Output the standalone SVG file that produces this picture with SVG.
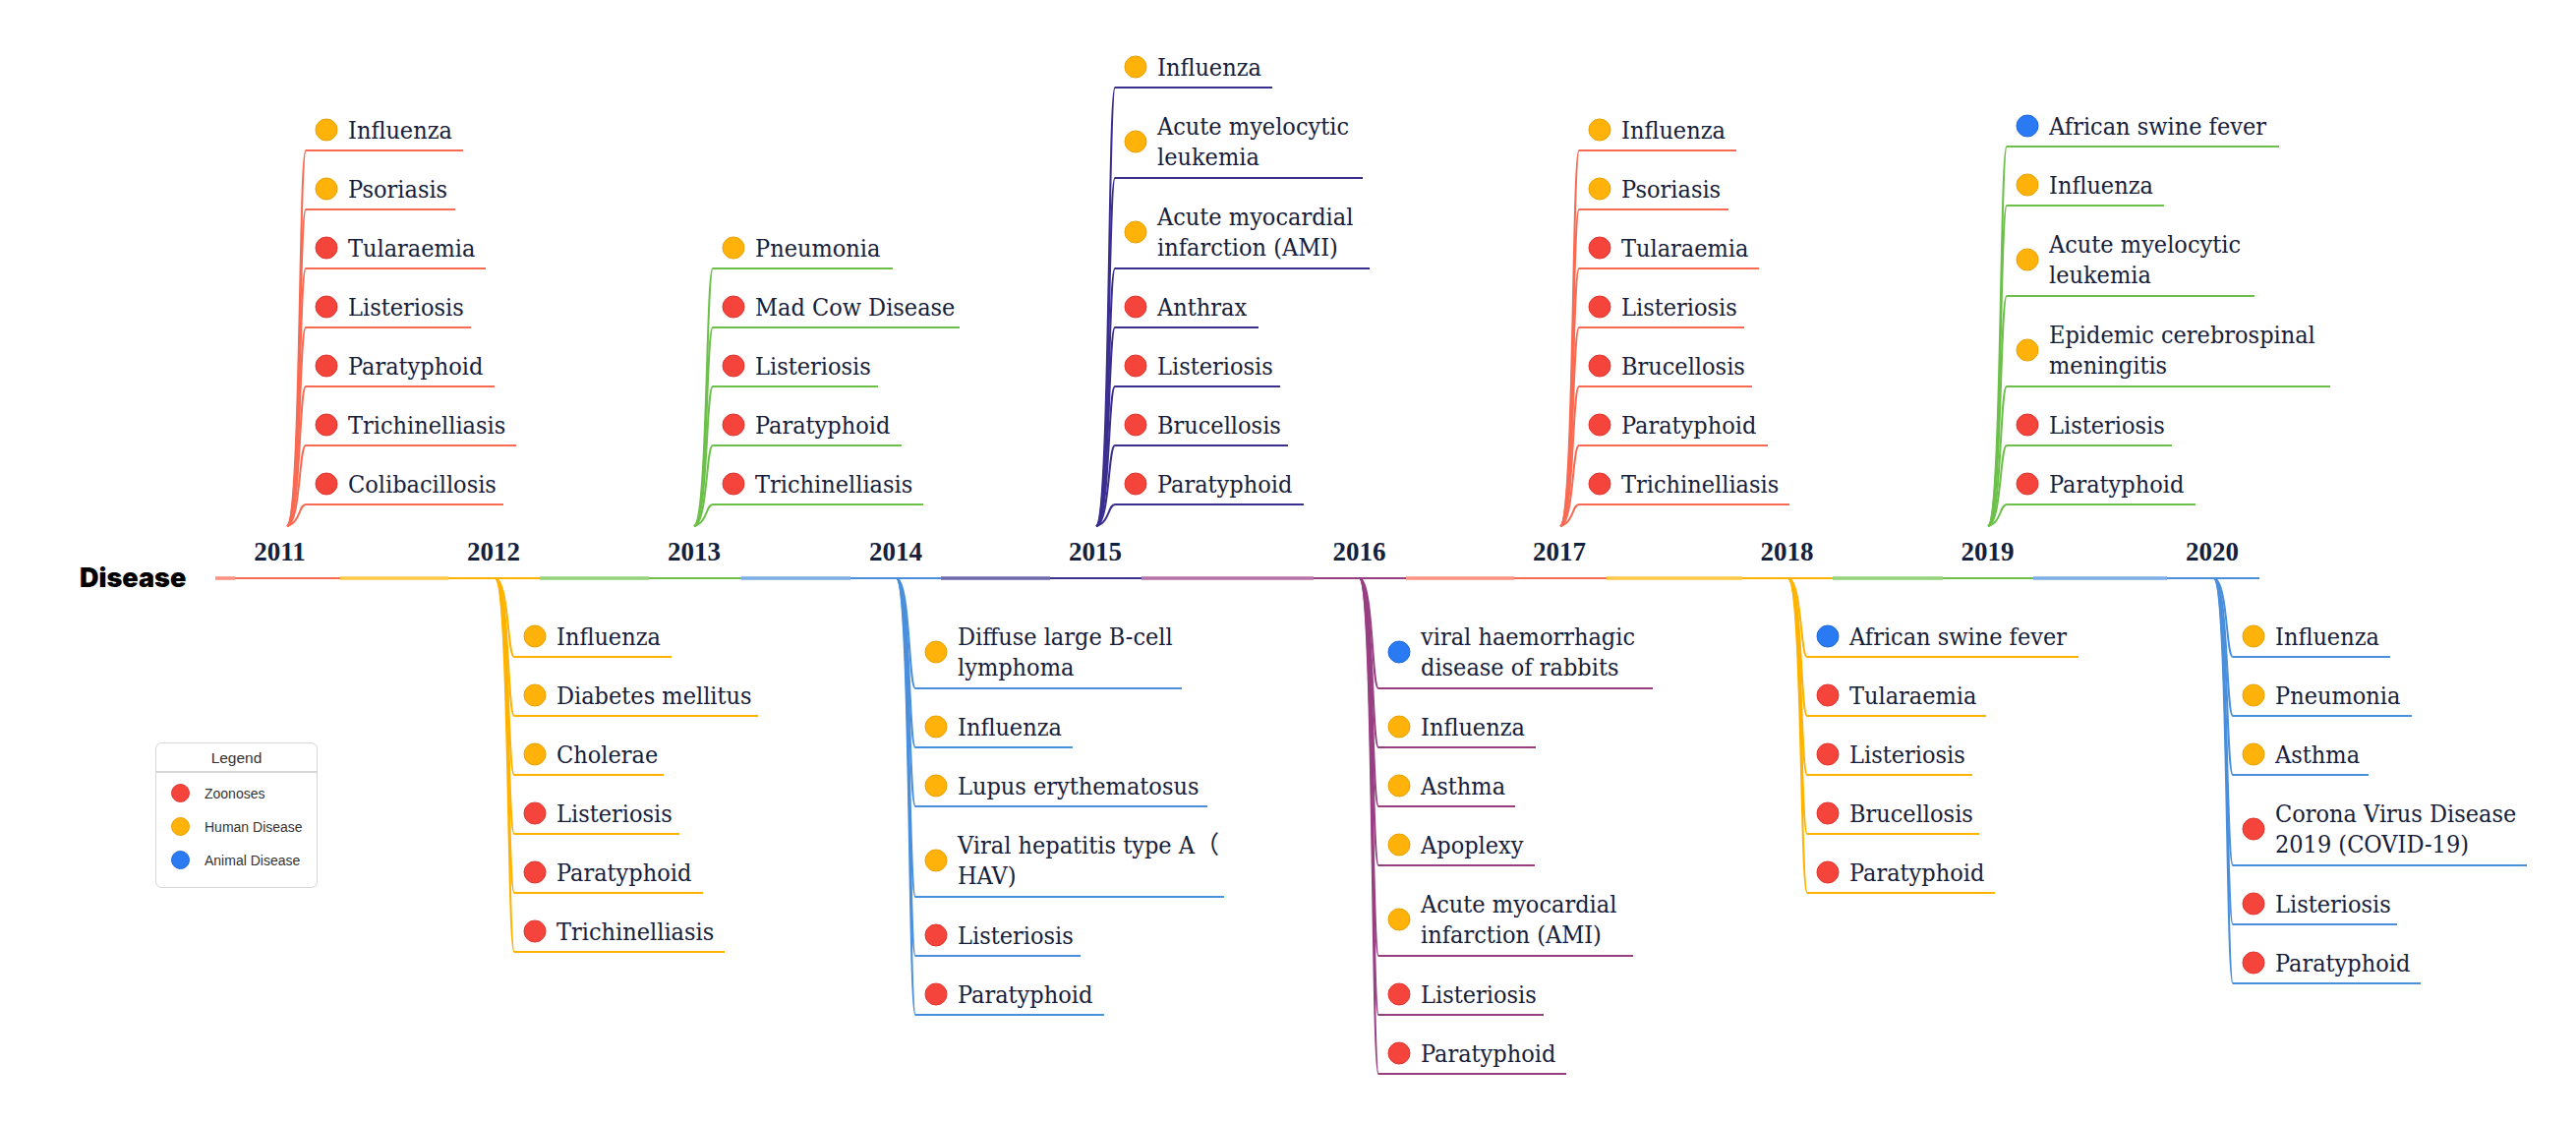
<svg xmlns="http://www.w3.org/2000/svg" width="2620" height="1143" viewBox="0 0 2620 1143">
<style>
.bg{fill:#ffffff}
.t{font-family:"DejaVu Serif Condensed","DejaVu Serif",serif;font-stretch:condensed;font-size:25px;fill:#16203a}
.yr{font-family:"Liberation Serif",serif;font-weight:bold;font-size:27px;fill:#14213d;text-anchor:middle}
.title{font-family:Inter,"Liberation Sans",Arial,sans-serif;font-weight:900;font-size:27px;fill:#000}
.lg{font-family:"Liberation Sans",Arial,sans-serif;font-size:14px;fill:#333}
.lgh{font-family:"Liberation Sans",Arial,sans-serif;font-size:15.5px;fill:#333;text-anchor:middle}
.z{fill:#f4443c;stroke:#e0362f;stroke-width:1}
.h{fill:#ffb20a;stroke:#e9a100;stroke-width:1}
.a{fill:#2a7af3;stroke:#1f68d8;stroke-width:1}
.c1{stroke:#f96a53}
.c2{stroke:#ffb300}
.c3{stroke:#6cc04a}
.c4{stroke:#4a8fdb}
.c5{stroke:#3a2f8f}
.c6{stroke:#983f82}
path,line{fill:none;stroke-width:2}
.thick{stroke-width:3.6;stroke-opacity:0.72}
</style>
<rect class="bg" x="0" y="0" width="2620" height="1143"/>

<g id="timeline">
<line class="c1 thick" x1="219" y1="588" x2="239" y2="588"/><line class="c1" x1="239" y1="588" x2="346" y2="588"/>
<line class="c2 thick" x1="346" y1="588" x2="456" y2="588"/><line class="c2" x1="456" y1="588" x2="549" y2="588"/>
<line class="c3 thick" x1="549" y1="588" x2="660" y2="588"/><line class="c3" x1="660" y1="588" x2="754" y2="588"/>
<line class="c4 thick" x1="754" y1="588" x2="865" y2="588"/><line class="c4" x1="865" y1="588" x2="957" y2="588"/>
<line class="c5 thick" x1="957" y1="588" x2="1068" y2="588"/><line class="c5" x1="1068" y1="588" x2="1161" y2="588"/>
<line class="c6 thick" x1="1161" y1="588" x2="1336" y2="588"/><line class="c6" x1="1336" y1="588" x2="1430" y2="588"/>
<line class="c1 thick" x1="1430" y1="588" x2="1540" y2="588"/><line class="c1" x1="1540" y1="588" x2="1634" y2="588"/>
<line class="c2 thick" x1="1634" y1="588" x2="1772" y2="588"/><line class="c2" x1="1772" y1="588" x2="1864" y2="588"/>
<line class="c3 thick" x1="1864" y1="588" x2="1976" y2="588"/><line class="c3" x1="1976" y1="588" x2="2068" y2="588"/>
<line class="c4 thick" x1="2068" y1="588" x2="2204" y2="588"/><line class="c4" x1="2204" y1="588" x2="2298" y2="588"/>
</g>

<g id="root"><text class="title" x="81" y="597">Disease</text></g>

<g id="years">
<text class="yr" x="284.5" y="570">2011</text>
<text class="yr" x="502" y="570">2012</text>
<text class="yr" x="706" y="570">2013</text>
<text class="yr" x="911" y="570">2014</text>
<text class="yr" x="1114" y="570">2015</text>
<text class="yr" x="1382.5" y="570">2016</text>
<text class="yr" x="1586" y="570">2017</text>
<text class="yr" x="1817.5" y="570">2018</text>
<text class="yr" x="2021.5" y="570">2019</text>
<text class="yr" x="2250" y="570">2020</text>
</g>

<g id="connectors">
<path class="c1" d="M292,535 C306,531 304,153 311,153"/>
<path class="c1" d="M292,535 C306,531 304,213 311,213"/>
<path class="c1" d="M292,535 C306,531 304,273 311,273"/>
<path class="c1" d="M292,535 C306,531 304,333 311,333"/>
<path class="c1" d="M292,535 C306,531 304,393 311,393"/>
<path class="c1" d="M292,535 C306,531 304,453 311,453"/>
<path class="c1" d="M292,535 C306,531 304,513 311,513"/>
<path class="c3" d="M706,535 C720,531 718,273 725,273"/>
<path class="c3" d="M706,535 C720,531 718,333 725,333"/>
<path class="c3" d="M706,535 C720,531 718,393 725,393"/>
<path class="c3" d="M706,535 C720,531 718,453 725,453"/>
<path class="c3" d="M706,535 C720,531 718,513 725,513"/>
<path class="c5" d="M1115,535 C1129,531 1127,89 1134,89"/>
<path class="c5" d="M1115,535 C1129,531 1127,181 1134,181"/>
<path class="c5" d="M1115,535 C1129,531 1127,273 1134,273"/>
<path class="c5" d="M1115,535 C1129,531 1127,333 1134,333"/>
<path class="c5" d="M1115,535 C1129,531 1127,393 1134,393"/>
<path class="c5" d="M1115,535 C1129,531 1127,453 1134,453"/>
<path class="c5" d="M1115,535 C1129,531 1127,513 1134,513"/>
<path class="c1" d="M1587,535 C1601,531 1599,153 1606,153"/>
<path class="c1" d="M1587,535 C1601,531 1599,213 1606,213"/>
<path class="c1" d="M1587,535 C1601,531 1599,273 1606,273"/>
<path class="c1" d="M1587,535 C1601,531 1599,333 1606,333"/>
<path class="c1" d="M1587,535 C1601,531 1599,393 1606,393"/>
<path class="c1" d="M1587,535 C1601,531 1599,453 1606,453"/>
<path class="c1" d="M1587,535 C1601,531 1599,513 1606,513"/>
<path class="c3" d="M2022,535 C2036,531 2034,149 2041,149"/>
<path class="c3" d="M2022,535 C2036,531 2034,209 2041,209"/>
<path class="c3" d="M2022,535 C2036,531 2034,301 2041,301"/>
<path class="c3" d="M2022,535 C2036,531 2034,393 2041,393"/>
<path class="c3" d="M2022,535 C2036,531 2034,453 2041,453"/>
<path class="c3" d="M2022,535 C2036,531 2034,513 2041,513"/>
<path class="c2" d="M504,588 C518,592 516,668 523,668"/>
<path class="c2" d="M504,588 C518,592 516,728 523,728"/>
<path class="c2" d="M504,588 C518,592 516,788 523,788"/>
<path class="c2" d="M504,588 C518,592 516,848 523,848"/>
<path class="c2" d="M504,588 C518,592 516,908 523,908"/>
<path class="c2" d="M504,588 C518,592 516,968 523,968"/>
<path class="c4" d="M912,588 C926,592 924,700 931,700"/>
<path class="c4" d="M912,588 C926,592 924,760 931,760"/>
<path class="c4" d="M912,588 C926,592 924,820 931,820"/>
<path class="c4" d="M912,588 C926,592 924,912 931,912"/>
<path class="c4" d="M912,588 C926,592 924,972 931,972"/>
<path class="c4" d="M912,588 C926,592 924,1032 931,1032"/>
<path class="c6" d="M1383,588 C1397,592 1395,700 1402,700"/>
<path class="c6" d="M1383,588 C1397,592 1395,760 1402,760"/>
<path class="c6" d="M1383,588 C1397,592 1395,820 1402,820"/>
<path class="c6" d="M1383,588 C1397,592 1395,880 1402,880"/>
<path class="c6" d="M1383,588 C1397,592 1395,972 1402,972"/>
<path class="c6" d="M1383,588 C1397,592 1395,1032 1402,1032"/>
<path class="c6" d="M1383,588 C1397,592 1395,1092 1402,1092"/>
<path class="c2" d="M1819,588 C1833,592 1831,668 1838,668"/>
<path class="c2" d="M1819,588 C1833,592 1831,728 1838,728"/>
<path class="c2" d="M1819,588 C1833,592 1831,788 1838,788"/>
<path class="c2" d="M1819,588 C1833,592 1831,848 1838,848"/>
<path class="c2" d="M1819,588 C1833,592 1831,908 1838,908"/>
<path class="c4" d="M2252,588 C2266,592 2264,668 2271,668"/>
<path class="c4" d="M2252,588 C2266,592 2264,728 2271,728"/>
<path class="c4" d="M2252,588 C2266,592 2264,788 2271,788"/>
<path class="c4" d="M2252,588 C2266,592 2264,880 2271,880"/>
<path class="c4" d="M2252,588 C2266,592 2264,940 2271,940"/>
<path class="c4" d="M2252,588 C2266,592 2264,1000 2271,1000"/>
</g>

<g id="y2011-1"><line class="c1" x1="311" y1="153" x2="471" y2="153"/><circle class="h" cx="332" cy="132" r="11"/><text class="t" x="354" y="141">Influenza</text></g>
<g id="y2011-2"><line class="c1" x1="311" y1="213" x2="463" y2="213"/><circle class="h" cx="332" cy="192" r="11"/><text class="t" x="354" y="201">Psoriasis</text></g>
<g id="y2011-3"><line class="c1" x1="311" y1="273" x2="494" y2="273"/><circle class="z" cx="332" cy="252" r="11"/><text class="t" x="354" y="261">Tularaemia</text></g>
<g id="y2011-4"><line class="c1" x1="311" y1="333" x2="479" y2="333"/><circle class="z" cx="332" cy="312" r="11"/><text class="t" x="354" y="321">Listeriosis</text></g>
<g id="y2011-5"><line class="c1" x1="311" y1="393" x2="503" y2="393"/><circle class="z" cx="332" cy="372" r="11"/><text class="t" x="354" y="381">Paratyphoid</text></g>
<g id="y2011-6"><line class="c1" x1="311" y1="453" x2="525" y2="453"/><circle class="z" cx="332" cy="432" r="11"/><text class="t" x="354" y="441">Trichinelliasis</text></g>
<g id="y2011-7"><line class="c1" x1="311" y1="513" x2="512" y2="513"/><circle class="z" cx="332" cy="492" r="11"/><text class="t" x="354" y="501">Colibacillosis</text></g>

<g id="y2013-1"><line class="c3" x1="725" y1="273" x2="908" y2="273"/><circle class="h" cx="746" cy="252" r="11"/><text class="t" x="768" y="261">Pneumonia</text></g>
<g id="y2013-2"><line class="c3" x1="725" y1="333" x2="976" y2="333"/><circle class="z" cx="746" cy="312" r="11"/><text class="t" x="768" y="321">Mad Cow Disease</text></g>
<g id="y2013-3"><line class="c3" x1="725" y1="393" x2="893" y2="393"/><circle class="z" cx="746" cy="372" r="11"/><text class="t" x="768" y="381">Listeriosis</text></g>
<g id="y2013-4"><line class="c3" x1="725" y1="453" x2="917" y2="453"/><circle class="z" cx="746" cy="432" r="11"/><text class="t" x="768" y="441">Paratyphoid</text></g>
<g id="y2013-5"><line class="c3" x1="725" y1="513" x2="939" y2="513"/><circle class="z" cx="746" cy="492" r="11"/><text class="t" x="768" y="501">Trichinelliasis</text></g>

<g id="y2015-1"><line class="c5" x1="1134" y1="89" x2="1294" y2="89"/><circle class="h" cx="1155" cy="68" r="11"/><text class="t" x="1177" y="77">Influenza</text></g>
<g id="y2015-2"><line class="c5" x1="1134" y1="181" x2="1386" y2="181"/><circle class="h" cx="1155" cy="144" r="11"/><text class="t" x="1177" y="137">Acute myelocytic<tspan x="1177" y="168">leukemia</tspan></text></g>
<g id="y2015-3"><line class="c5" x1="1134" y1="273" x2="1393" y2="273"/><circle class="h" cx="1155" cy="236" r="11"/><text class="t" x="1177" y="229">Acute myocardial<tspan x="1177" y="260">infarction (AMI)</tspan></text></g>
<g id="y2015-4"><line class="c5" x1="1134" y1="333" x2="1280" y2="333"/><circle class="z" cx="1155" cy="312" r="11"/><text class="t" x="1177" y="321">Anthrax</text></g>
<g id="y2015-5"><line class="c5" x1="1134" y1="393" x2="1302" y2="393"/><circle class="z" cx="1155" cy="372" r="11"/><text class="t" x="1177" y="381">Listeriosis</text></g>
<g id="y2015-6"><line class="c5" x1="1134" y1="453" x2="1310" y2="453"/><circle class="z" cx="1155" cy="432" r="11"/><text class="t" x="1177" y="441">Brucellosis</text></g>
<g id="y2015-7"><line class="c5" x1="1134" y1="513" x2="1326" y2="513"/><circle class="z" cx="1155" cy="492" r="11"/><text class="t" x="1177" y="501">Paratyphoid</text></g>

<g id="y2017-1"><line class="c1" x1="1606" y1="153" x2="1766" y2="153"/><circle class="h" cx="1627" cy="132" r="11"/><text class="t" x="1649" y="141">Influenza</text></g>
<g id="y2017-2"><line class="c1" x1="1606" y1="213" x2="1758" y2="213"/><circle class="h" cx="1627" cy="192" r="11"/><text class="t" x="1649" y="201">Psoriasis</text></g>
<g id="y2017-3"><line class="c1" x1="1606" y1="273" x2="1789" y2="273"/><circle class="z" cx="1627" cy="252" r="11"/><text class="t" x="1649" y="261">Tularaemia</text></g>
<g id="y2017-4"><line class="c1" x1="1606" y1="333" x2="1774" y2="333"/><circle class="z" cx="1627" cy="312" r="11"/><text class="t" x="1649" y="321">Listeriosis</text></g>
<g id="y2017-5"><line class="c1" x1="1606" y1="393" x2="1782" y2="393"/><circle class="z" cx="1627" cy="372" r="11"/><text class="t" x="1649" y="381">Brucellosis</text></g>
<g id="y2017-6"><line class="c1" x1="1606" y1="453" x2="1798" y2="453"/><circle class="z" cx="1627" cy="432" r="11"/><text class="t" x="1649" y="441">Paratyphoid</text></g>
<g id="y2017-7"><line class="c1" x1="1606" y1="513" x2="1820" y2="513"/><circle class="z" cx="1627" cy="492" r="11"/><text class="t" x="1649" y="501">Trichinelliasis</text></g>

<g id="y2019-1"><line class="c3" x1="2041" y1="149" x2="2318" y2="149"/><circle class="a" cx="2062" cy="128" r="11"/><text class="t" x="2084" y="137">African swine fever</text></g>
<g id="y2019-2"><line class="c3" x1="2041" y1="209" x2="2201" y2="209"/><circle class="h" cx="2062" cy="188" r="11"/><text class="t" x="2084" y="197">Influenza</text></g>
<g id="y2019-3"><line class="c3" x1="2041" y1="301" x2="2293" y2="301"/><circle class="h" cx="2062" cy="264" r="11"/><text class="t" x="2084" y="257">Acute myelocytic<tspan x="2084" y="288">leukemia</tspan></text></g>
<g id="y2019-4"><line class="c3" x1="2041" y1="393" x2="2370" y2="393"/><circle class="h" cx="2062" cy="356" r="11"/><text class="t" x="2084" y="349">Epidemic cerebrospinal<tspan x="2084" y="380">meningitis</tspan></text></g>
<g id="y2019-5"><line class="c3" x1="2041" y1="453" x2="2209" y2="453"/><circle class="z" cx="2062" cy="432" r="11"/><text class="t" x="2084" y="441">Listeriosis</text></g>
<g id="y2019-6"><line class="c3" x1="2041" y1="513" x2="2233" y2="513"/><circle class="z" cx="2062" cy="492" r="11"/><text class="t" x="2084" y="501">Paratyphoid</text></g>

<g id="y2012-1"><line class="c2" x1="523" y1="668" x2="683" y2="668"/><circle class="h" cx="544" cy="647" r="11"/><text class="t" x="566" y="656">Influenza</text></g>
<g id="y2012-2"><line class="c2" x1="523" y1="728" x2="771" y2="728"/><circle class="h" cx="544" cy="707" r="11"/><text class="t" x="566" y="716">Diabetes mellitus</text></g>
<g id="y2012-3"><line class="c2" x1="523" y1="788" x2="675" y2="788"/><circle class="h" cx="544" cy="767" r="11"/><text class="t" x="566" y="776">Cholerae</text></g>
<g id="y2012-4"><line class="c2" x1="523" y1="848" x2="691" y2="848"/><circle class="z" cx="544" cy="827" r="11"/><text class="t" x="566" y="836">Listeriosis</text></g>
<g id="y2012-5"><line class="c2" x1="523" y1="908" x2="715" y2="908"/><circle class="z" cx="544" cy="887" r="11"/><text class="t" x="566" y="896">Paratyphoid</text></g>
<g id="y2012-6"><line class="c2" x1="523" y1="968" x2="737" y2="968"/><circle class="z" cx="544" cy="947" r="11"/><text class="t" x="566" y="956">Trichinelliasis</text></g>

<g id="y2014-1"><line class="c4" x1="931" y1="700" x2="1202" y2="700"/><circle class="h" cx="952" cy="663" r="11"/><text class="t" x="974" y="656">Diffuse large B-cell<tspan x="974" y="687">lymphoma</tspan></text></g>
<g id="y2014-2"><line class="c4" x1="931" y1="760" x2="1091" y2="760"/><circle class="h" cx="952" cy="739" r="11"/><text class="t" x="974" y="748">Influenza</text></g>
<g id="y2014-3"><line class="c4" x1="931" y1="820" x2="1228" y2="820"/><circle class="h" cx="952" cy="799" r="11"/><text class="t" x="974" y="808">Lupus erythematosus</text></g>
<g id="y2014-4"><line class="c4" x1="931" y1="912" x2="1245" y2="912"/><circle class="h" cx="952" cy="875" r="11"/><text class="t" x="974" y="868">Viral hepatitis type A<tspan font-family="'Noto Sans CJK SC',sans-serif">（</tspan><tspan x="974" y="899">HAV)</tspan></text></g>
<g id="y2014-5"><line class="c4" x1="931" y1="972" x2="1099" y2="972"/><circle class="z" cx="952" cy="951" r="11"/><text class="t" x="974" y="960">Listeriosis</text></g>
<g id="y2014-6"><line class="c4" x1="931" y1="1032" x2="1123" y2="1032"/><circle class="z" cx="952" cy="1011" r="11"/><text class="t" x="974" y="1020">Paratyphoid</text></g>

<g id="y2016-1"><line class="c6" x1="1402" y1="700" x2="1681" y2="700"/><circle class="a" cx="1423" cy="663" r="11"/><text class="t" x="1445" y="656">viral haemorrhagic<tspan x="1445" y="687">disease of rabbits</tspan></text></g>
<g id="y2016-2"><line class="c6" x1="1402" y1="760" x2="1562" y2="760"/><circle class="h" cx="1423" cy="739" r="11"/><text class="t" x="1445" y="748">Influenza</text></g>
<g id="y2016-3"><line class="c6" x1="1402" y1="820" x2="1541" y2="820"/><circle class="h" cx="1423" cy="799" r="11"/><text class="t" x="1445" y="808">Asthma</text></g>
<g id="y2016-4"><line class="c6" x1="1402" y1="880" x2="1561" y2="880"/><circle class="h" cx="1423" cy="859" r="11"/><text class="t" x="1445" y="868">Apoplexy</text></g>
<g id="y2016-5"><line class="c6" x1="1402" y1="972" x2="1661" y2="972"/><circle class="h" cx="1423" cy="935" r="11"/><text class="t" x="1445" y="928">Acute myocardial<tspan x="1445" y="959">infarction (AMI)</tspan></text></g>
<g id="y2016-6"><line class="c6" x1="1402" y1="1032" x2="1570" y2="1032"/><circle class="z" cx="1423" cy="1011" r="11"/><text class="t" x="1445" y="1020">Listeriosis</text></g>
<g id="y2016-7"><line class="c6" x1="1402" y1="1092" x2="1593" y2="1092"/><circle class="z" cx="1423" cy="1071" r="11"/><text class="t" x="1445" y="1080">Paratyphoid</text></g>

<g id="y2018-1"><line class="c2" x1="1838" y1="668" x2="2114" y2="668"/><circle class="a" cx="1859" cy="647" r="11"/><text class="t" x="1881" y="656">African swine fever</text></g>
<g id="y2018-2"><line class="c2" x1="1838" y1="728" x2="2020" y2="728"/><circle class="z" cx="1859" cy="707" r="11"/><text class="t" x="1881" y="716">Tularaemia</text></g>
<g id="y2018-3"><line class="c2" x1="1838" y1="788" x2="2006" y2="788"/><circle class="z" cx="1859" cy="767" r="11"/><text class="t" x="1881" y="776">Listeriosis</text></g>
<g id="y2018-4"><line class="c2" x1="1838" y1="848" x2="2013" y2="848"/><circle class="z" cx="1859" cy="827" r="11"/><text class="t" x="1881" y="836">Brucellosis</text></g>
<g id="y2018-5"><line class="c2" x1="1838" y1="908" x2="2029" y2="908"/><circle class="z" cx="1859" cy="887" r="11"/><text class="t" x="1881" y="896">Paratyphoid</text></g>

<g id="y2020-1"><line class="c4" x1="2271" y1="668" x2="2431" y2="668"/><circle class="h" cx="2292" cy="647" r="11"/><text class="t" x="2314" y="656">Influenza</text></g>
<g id="y2020-2"><line class="c4" x1="2271" y1="728" x2="2453" y2="728"/><circle class="h" cx="2292" cy="707" r="11"/><text class="t" x="2314" y="716">Pneumonia</text></g>
<g id="y2020-3"><line class="c4" x1="2271" y1="788" x2="2409" y2="788"/><circle class="h" cx="2292" cy="767" r="11"/><text class="t" x="2314" y="776">Asthma</text></g>
<g id="y2020-4"><line class="c4" x1="2271" y1="880" x2="2570" y2="880"/><circle class="z" cx="2292" cy="843" r="11"/><text class="t" x="2314" y="836">Corona Virus Disease<tspan x="2314" y="867">2019 (COVID-19)</tspan></text></g>
<g id="y2020-5"><line class="c4" x1="2271" y1="940" x2="2438" y2="940"/><circle class="z" cx="2292" cy="919" r="11"/><text class="t" x="2314" y="928">Listeriosis</text></g>
<g id="y2020-6"><line class="c4" x1="2271" y1="1000" x2="2462" y2="1000"/><circle class="z" cx="2292" cy="979" r="11"/><text class="t" x="2314" y="988">Paratyphoid</text></g>

<g id="legend">
<rect x="158.5" y="755.5" width="164" height="147" rx="6" fill="#fff" stroke="#d6d6d6" stroke-width="1"/>
<line x1="158.5" y1="785" x2="322.5" y2="785" stroke="#d6d6d6" stroke-width="1"/>
<text class="lgh" x="240.5" y="776">Legend</text>
<circle class="z" cx="183.5" cy="806.5" r="9"/><text class="lg" x="208" y="811.5">Zoonoses</text>
<circle class="h" cx="183.5" cy="840.5" r="9"/><text class="lg" x="208" y="845.5">Human Disease</text>
<circle class="a" cx="183.5" cy="874.5" r="9"/><text class="lg" x="208" y="879.5">Animal Disease</text>
</g>
</svg>
